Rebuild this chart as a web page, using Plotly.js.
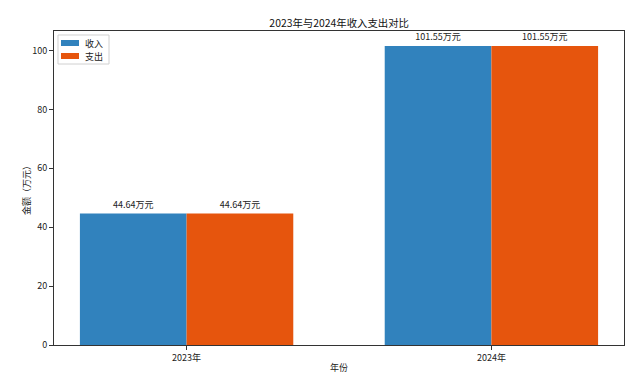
<!DOCTYPE html>
<html><head><meta charset="utf-8">
<script src="https://cdn.plot.ly/plotly-3.0.1.min.js"></script>
<style>html,body{margin:0;padding:0;background:#fff}#c{width:640px;height:386px}</style>
</head><body><div id="c"></div>
<script>
const years = ['2023年', '2024年'];
const income = [44.64, 101.55];
const expense = [44.64, 101.55];
const seriesNames = ['收入', '支出'];
const seriesColors = ['#3182bd', '#e6550d'];
const xIdx = years.map((_, i) => i);
const font = 'Noto Sans CJK SC, DejaVu Sans, sans-serif';
const fmt = v => v.toFixed(2) + '万元';
function tr(name, vals, color) {
  return {type: 'bar', name: name, x: xIdx, y: vals, marker: {color: color, line: {width: 0}},
    text: vals.map(fmt), textposition: 'outside', cliponaxis: false,
    textfont: {size: 9, color: '#222', family: font}, hoverinfo: 'none'};
}
const data = [tr(seriesNames[0], income, seriesColors[0]), tr(seriesNames[1], expense, seriesColors[1])];

// compact matplotlib-style legend (paper coordinates of plot area)
const shapes = [{type: 'rect', xref: 'paper', yref: 'paper', x0: 0.007, x1: 0.0965, y0: 0.8949, y1: 0.9873,
  line: {color: '#d0d0d0', width: 1}, fillcolor: 'rgba(255,255,255,0.8)', layer: 'above'}];
const annotations = [];
const rowY = [[0.9522, 0.9713], [0.9108, 0.9299]];
seriesNames.forEach((n, i) => {
  shapes.push({type: 'rect', xref: 'paper', yref: 'paper', x0: 0.0123, x1: 0.0439, y0: rowY[i][0], y1: rowY[i][1],
    line: {width: 0}, fillcolor: seriesColors[i], layer: 'above'});
  annotations.push({xref: 'paper', yref: 'paper', x: 0.0526, y: (rowY[i][0] + rowY[i][1]) / 2, xanchor: 'left', yanchor: 'middle',
    text: n, showarrow: false, borderpad: 0, font: {size: 9, family: font, color: '#222'}});
});

const layout = {
  width: 640, height: 386, paper_bgcolor: '#fff', plot_bgcolor: '#fff',
  margin: {l: 54, r: 16, t: 31, b: 41},
  font: {family: font, size: 9, color: '#222'},
  title: {text: '2023年与2024年收入支出对比', x: 0.53, xanchor: 'center', y: 0.94, yanchor: 'middle', font: {size: 10.4, family: font, color: '#111'}},
  barmode: 'group', bargap: 0.3, bargroupgap: 0,
  xaxis: {range: [-0.435, 1.435], tickvals: xIdx, ticktext: years, showgrid: false, zeroline: false,
    showline: true, linecolor: '#333', linewidth: 1, mirror: true, ticks: 'outside', ticklen: 4, tickcolor: '#333',
    tickfont: {size: 9}, title: {text: '年份', font: {size: 9}, standoff: 1}},
  yaxis: {range: [0, 106.63], tickvals: [0, 20, 40, 60, 80, 100], showgrid: false, zeroline: false,
    showline: true, linecolor: '#333', linewidth: 1, mirror: true, ticks: 'outside', ticklen: 4, tickcolor: '#333',
    tickfont: {size: 9}, title: {text: '金额（万元）', font: {size: 9}, standoff: 0}},
  shapes: shapes, annotations: annotations,
  showlegend: false
};
Plotly.newPlot('c', data, layout, {staticPlot: true, displayModeBar: false});
</script></body></html>
